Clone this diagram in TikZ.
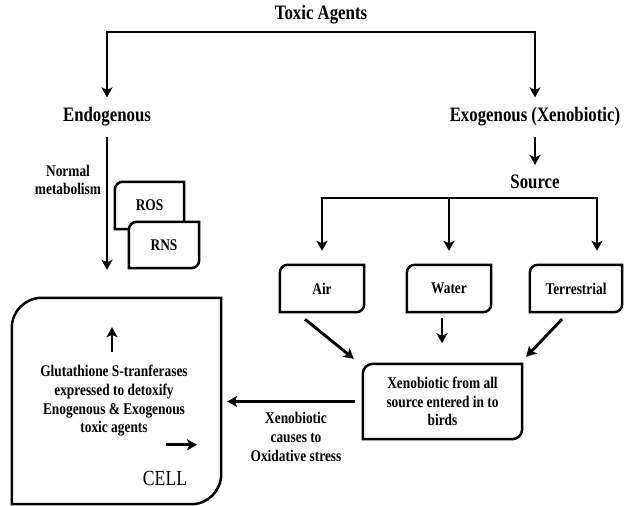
\documentclass[tikz,border=0pt]{standalone}
\usepackage{fontspec}
\setmainfont{Liberation Serif}[FakeStretch=0.82]
\usetikzlibrary{arrows.meta,calc,backgrounds}

% box outline: only top-left and bottom-right corners rounded
\newcommand{\diagframe}[2]{%
  \draw[boxline] (#1.south west) -- ([yshift=-#2]#1.north west)
    arc[start angle=180,end angle=90,radius=#2] -- (#1.north east)
    -- ([yshift=#2]#1.south east)
    arc[start angle=0,end angle=-90,radius=#2] -- cycle;}

\begin{document}
\begin{tikzpicture}[x=1pt,y=-1pt,
    head/.style={font=\fontsize{20.5}{24}\selectfont\bfseries,inner sep=10pt},
    txt/.style={font=\fontsize{16.3}{18.7}\selectfont\bfseries,align=center,
      inner sep=0pt},
    box/.style={txt,minimum height=47pt},
    boxline/.style={line width=2.5pt,fill=white},
    arr/.style={line width=2.9pt,
      -{Stealth[length=10pt,width=11pt,inset=2.5pt]}}]
  \useasboundingbox (0,0) rectangle (624,506);

  % Headings.
  \node[head] (toxic) at (321,15) {Toxic Agents};
  \node[head] (endo) at (107,117) {Endogenous};
  \node[head] (exo) at (535,117) {Exogenous (Xenobiotic)};
  \node[head] (source) at (535,182) {Source};

  % Endogenous side.
  \node[txt] (normal) at (68,180) {Normal\\metabolism};
  \node[box,minimum width=69pt] (ros) at (149.5,205.5) {ROS};
  \node[box,minimum width=70pt,minimum height=46pt] (rns) at (164,245) {RNS};

  % Exogenous sources.
  \node[box,minimum width=84pt] (air) at (322,288.5) {Air};
  \node[box,minimum width=84pt] (water) at (449,288.5) {Water};
  \node[box,minimum width=92pt] (terr) at (576,288.5) {Terrestrial};
  \node[txt,minimum width=159pt,minimum height=75pt] (xeno) at (442.5,401.5)
    {Xenobiotic from all\\source entered in to\\birds};
  \node[txt] (oxlabel) at (296,437) {Xenobiotic\\causes to\\Oxidative stress};

  % The cell.
  \node[minimum width=209pt,minimum height=206pt,inner sep=0pt] (cell)
    at (116.5,401) {};
  \node[txt] (gst) at (114,401) {Glutathione S-tranferases\\expressed to detoxify\\
    Enogenous \& Exogenous\\toxic agents};
  \node[font=\fontsize{21.5}{24}\selectfont,inner sep=0pt] (celltag)
    at (165,478) {CELL};

  \begin{scope}[on background layer]
    \diagframe{ros}{8pt}
    \diagframe{rns}{8pt}
    \diagframe{air}{8pt}
    \diagframe{water}{8pt}
    \diagframe{terr}{8pt}
    \diagframe{xeno}{10pt}
    \diagframe{cell}{30pt}
  \end{scope}

  % Connectors.
  \coordinate (tsplit) at (321,32);
  \draw[arr] (tsplit) -| (endo);
  \draw[arr] (tsplit) -| (exo);
  \draw[arr] (exo) -- (source);
  \draw[arr,shorten >=28pt] (endo) -- (endo |- cell.north);

  \coordinate (ssplit) at (449,198);
  \draw[arr,shorten >=14pt] (ssplit) -| (air);
  \draw[arr,shorten >=14pt] (ssplit) -- (water);
  \draw[arr,shorten >=14pt] (ssplit) -| ([xshift=21pt]terr.north);

  \draw[arr] ($(air.south)+(-17,7)$) -- ($(xeno.north west)+(-9,-5)$);
  \draw[arr] ($(water.south)+(-7,6)$) -- ++(0,25);
  \draw[arr] ($(terr.south)+(-14,7)$) -- ($(xeno.north east)+(4,-7)$);
  \draw[arr,shorten <=8pt,shorten >=6pt] (xeno.west) -- (xeno.west -| cell.east);

  \draw[arr] ($(gst.north)+(-2,-13)$) -- ++(0,-25);
  \draw[arr] ($(gst.south)+(52,8)$) -- ++(31,0);
\end{tikzpicture}
\end{document}
